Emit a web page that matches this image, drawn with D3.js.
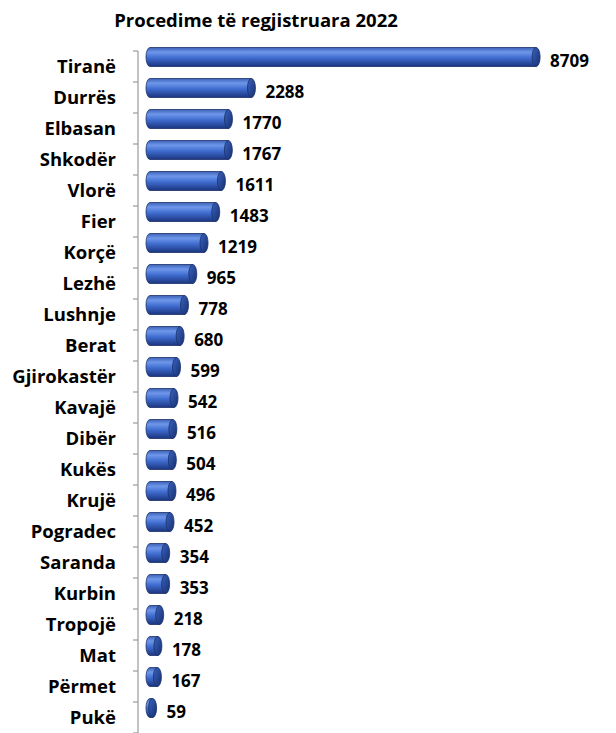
<!DOCTYPE html>
<html>
<head>
<meta charset="utf-8">
<script src="https://cdn.jsdelivr.net/npm/d3@7"></script>
<style>
  body { margin: 0; background: #fff; }
  #chart { width: 616px; height: 733px; }
</style>
</head>
<body>
<div id="chart"></div>
<script>
const cities = ["Tiranë", "Durrës", "Elbasan", "Shkodër", "Vlorë", "Fier", "Korçë", "Lezhë",
    "Lushnje", "Berat", "Gjirokastër", "Kavajë", "Dibër", "Kukës", "Krujë", "Pogradec",
    "Saranda", "Kurbin", "Tropojë", "Mat", "Përmet", "Pukë"];
const procedures = [8709, 2288, 1770, 1767, 1611, 1483, 1219, 965, 778, 680, 599, 542,
    516, 504, 496, 452, 354, 353, 218, 178, 167, 59];
const chartTitle = "Procedime të regjistruara 2022";

const data = cities.map((c, i) => ({ city: c, value: procedures[i] }));

const width = 616, height = 733;
const svg = d3.select("#chart").append("svg")
    .attr("width", width)
    .attr("height", height)
    .attr("viewBox", `0 0 ${width} ${height}`);

const font = "'Open Sans', sans-serif";

// gradient for the cylinder body
const defs = svg.append("defs");
const grad = defs.append("linearGradient")
    .attr("id", "body").attr("x1", 0).attr("y1", 0).attr("x2", 0).attr("y2", 1);
grad.append("stop").attr("offset", "0%").attr("stop-color", "#3d62b8");
grad.append("stop").attr("offset", "25%").attr("stop-color", "#6e97ea");
grad.append("stop").attr("offset", "55%").attr("stop-color", "#3f6ccf");
grad.append("stop").attr("offset", "100%").attr("stop-color", "#1b357e");

const capGrad = defs.append("linearGradient")
    .attr("id", "cap").attr("x1", 0).attr("y1", 0).attr("x2", 1).attr("y2", 1);
capGrad.append("stop").attr("offset", "0%").attr("stop-color", "#3a62c0");
capGrad.append("stop").attr("offset", "100%").attr("stop-color", "#16306f");

const axisX = 138;
const y = d3.scaleBand().domain(cities).range([51, 733]).padding(0);
const x = d3.scaleLinear().domain([0, 9000]).range([150, 549]);

// title
svg.append("text")
    .attr("x", 256).attr("y", 27)
    .attr("text-anchor", "middle")
    .style("font-family", font).style("font-weight", "bold").style("font-size", "18.5px")
    .style("fill", "#000")
    .text(chartTitle);

// axis line and ticks between categories
svg.append("line")
    .attr("x1", axisX).attr("x2", axisX)
    .attr("y1", y.range()[0]).attr("y2", y.range()[1])
    .style("stroke", "#9a9a9a").style("stroke-width", 1.2);

const bounds = cities.map(c => y(c)).concat([y.range()[1]]);
svg.selectAll(".tick")
    .data(bounds)
    .enter().append("line")
    .attr("class", "tick")
    .attr("x1", axisX - 5).attr("x2", axisX)
    .attr("y1", d => d).attr("y2", d => d)
    .style("stroke", "#9a9a9a").style("stroke-width", 1.2);

// category labels
svg.selectAll(".cat")
    .data(data)
    .enter().append("text")
    .attr("class", "cat")
    .attr("x", 116)
    .attr("y", d => y(d.city) + y.bandwidth() / 2)
    .attr("dy", "0.35em")
    .attr("text-anchor", "end")
    .style("font-family", font).style("font-weight", "bold").style("font-size", "18.5px")
    .style("fill", "#000")
    .text(d => d.city);

// cylinders
const bh = 19, rx = 4, shift = -9.5;
const bars = svg.selectAll(".bar")
    .data(data)
    .enter().append("g")
    .attr("class", "bar");

bars.append("path")
    .attr("d", d => {
        const cy = y(d.city) + y.bandwidth() / 2 + shift;
        const y0 = cy - bh / 2, y1 = cy + bh / 2;
        const x0 = x(0), x1 = x(d.value);
        return `M ${x0},${y0} L ${x1},${y0} L ${x1},${y1} L ${x0},${y1}
                A ${rx},${bh / 2} 0 0 1 ${x0},${y0} Z`;
    })
    .style("fill", "url(#body)")
    .style("stroke", "#1a3068")
    .style("stroke-width", 0.8);

bars.append("ellipse")
    .attr("cx", d => x(d.value))
    .attr("cy", d => y(d.city) + y.bandwidth() / 2 + shift)
    .attr("rx", rx)
    .attr("ry", bh / 2)
    .style("fill", "url(#cap)")
    .style("stroke", "#1a3068")
    .style("stroke-width", 0.8);

// value labels
svg.selectAll(".val")
    .data(data)
    .enter().append("text")
    .attr("class", "val")
    .attr("x", d => x(d.value) + rx + 10)
    .attr("y", d => y(d.city) + y.bandwidth() / 2 + shift + 4.5)
    .attr("dy", "0.35em")
    .style("font-family", font).style("font-weight", "bold").style("font-size", "17px")
    .style("fill", "#000")
    .text(d => d.value);
</script>
</body>
</html>
